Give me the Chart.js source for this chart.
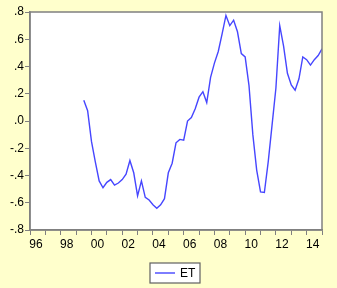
<!DOCTYPE html>
<html>
<head>
<meta charset="utf-8">
<script src="https://cdn.jsdelivr.net/npm/chart.js@4"></script>
<style>
  html, body { margin: 0; padding: 0; background: #FFFFCC; }
  #wrap { width: 337px; height: 288px; }
</style>
</head>
<body>
<div id="wrap"><canvas id="et-chart"></canvas></div>
<script>
// quarterly series ET, first obs 1999Q3
var seriesName = "ET";
var startYear = 1999, startQuarter = 3;
var etValues = [
  0.153, 0.075, -0.15, -0.30, -0.44, -0.49, -0.45, -0.43, -0.47, -0.455,
  -0.43, -0.39, -0.29, -0.38, -0.55, -0.44, -0.56, -0.58, -0.615, -0.64,
  -0.615, -0.57, -0.38, -0.31, -0.16, -0.135, -0.14, 0.00, 0.025, 0.09,
  0.175, 0.215, 0.135, 0.32, 0.425, 0.51, 0.64, 0.775, 0.70, 0.74,
  0.655, 0.495, 0.47, 0.26, -0.10, -0.36, -0.52, -0.525, -0.30, -0.03,
  0.24, 0.70, 0.55, 0.35, 0.265, 0.226, 0.31, 0.47, 0.45, 0.41,
  0.45, 0.48, 0.53
];
var xRange = [1996, 2015];
var yRange = [-0.8, 0.8];
var yStep = 0.2;

var points = etValues.map(function (v, i) {
  return { x: startYear + (startQuarter - 1) / 4 + i / 4, y: v };
});

var bgPlugin = {
  id: 'eviewsLook',
  beforeDraw: function (chart) {
    var c = chart.ctx, a = chart.chartArea;
    c.save();
    c.fillStyle = '#FFFFCC';
    c.fillRect(0, 0, chart.width, chart.height);
    c.fillStyle = '#FFFFFF';
    c.fillRect(a.left, a.top, a.right - a.left, a.bottom - a.top);
    c.restore();
  },
  afterDraw: function (chart) {
    var c = chart.ctx, a = chart.chartArea;
    c.save();
    c.strokeStyle = '#808080';
    c.lineWidth = 1.5;
    c.strokeRect(a.left, a.top, a.right - a.left, a.bottom - a.top);

    // legend box
    var ds = chart.data.datasets[0];
    c.fillStyle = '#FFFFFF';
    c.fillRect(150, 263, 50, 20);
    c.strokeStyle = '#606060';
    c.lineWidth = 1.2;
    c.strokeRect(150, 263, 50, 20);
    c.strokeStyle = ds.borderColor;
    c.lineWidth = ds.borderWidth;
    c.beginPath();
    c.moveTo(155, 273);
    c.lineTo(175, 273);
    c.stroke();
    c.fillStyle = '#000000';
    c.font = '12px "Liberation Sans", Arial, sans-serif';
    c.textBaseline = 'middle';
    c.fillText(ds.label, 180, 273.5);
    c.restore();
  }
};

new Chart(document.getElementById('et-chart'), {
  type: 'line',
  data: {
    datasets: [{
      label: seriesName,
      data: points,
      borderColor: '#4646FF',
      borderWidth: 1.4,
      pointRadius: 0,
      tension: 0,
      fill: false
    }]
  },
  options: {
    responsive: true,
    maintainAspectRatio: false,
    animation: false,
    layout: { padding: { top: 12, right: 15, left: 0, bottom: 0 } },
    plugins: {
      legend: { display: false },
      tooltip: { enabled: false }
    },
    scales: {
      x: {
        type: 'linear',
        min: xRange[0],
        max: xRange[1],
        afterFit: function (s) { s.height = 58; },
        grid: { drawOnChartArea: false, drawTicks: true, tickLength: 5, color: '#808080' },
        border: { color: '#808080', width: 1.5 },
        ticks: {
          stepSize: 1,
          autoSkip: false,
          maxRotation: 0,
          padding: 2,
          labelOffset: 6,
          color: '#000000',
          font: { family: '"Liberation Sans", Arial, sans-serif', size: 12 },
          callback: function (v) {
            return v % 2 === 0 ? String(v % 100).padStart(2, '0') : '';
          }
        }
      },
      y: {
        min: yRange[0],
        max: yRange[1],
        afterFit: function (s) { s.width = 30; },
        grid: { drawOnChartArea: false, drawTicks: true, tickLength: 5, color: '#808080' },
        border: { color: '#808080', width: 1.5 },
        ticks: {
          stepSize: yStep,
          padding: 1,
          color: '#000000',
          font: { family: '"Liberation Sans", Arial, sans-serif', size: 12 },
          callback: function (v) {
            return v.toFixed(1).replace('0.', '.');
          }
        }
      }
    }
  },
  plugins: [bgPlugin]
});
</script>
</body>
</html>
